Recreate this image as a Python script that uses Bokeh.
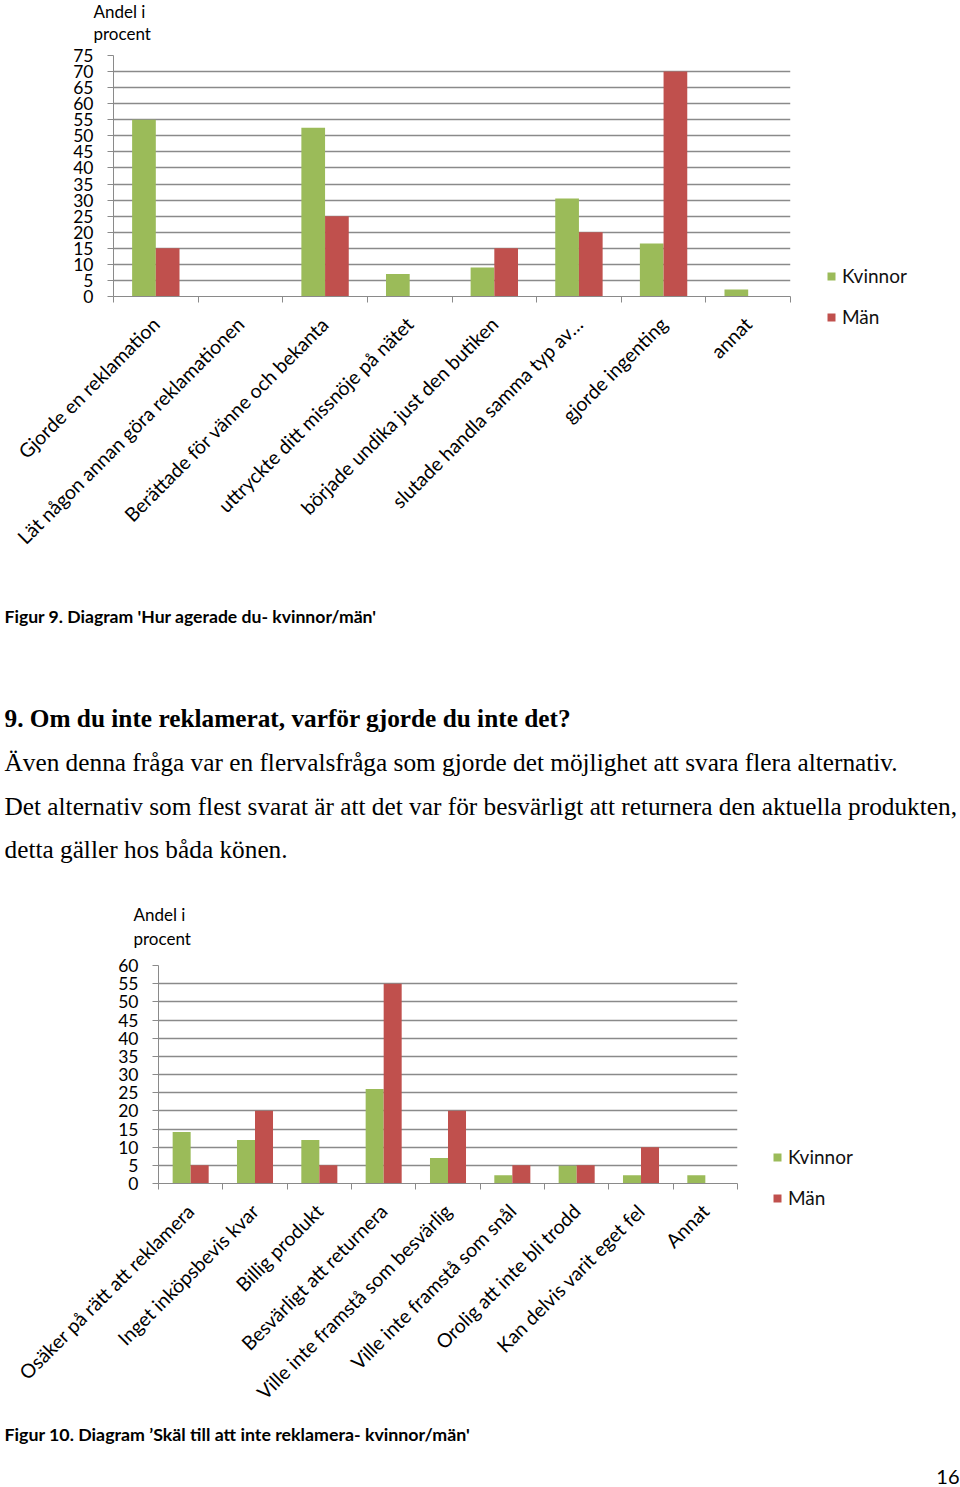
import numpy as np
from bokeh.plotting import figure
from bokeh.models import Range1d, FixedTicker, Legend, LegendItem
from bokeh.layouts import column
from bokeh.embed import file_html
from bokeh.resources import INLINE
from bokeh.core.properties import value

# ---------------- data ----------------
cats1 = ["Gjorde en reklamation", "Lät någon annan göra reklamationen",
         "Berättade för vänne och bekanta", "uttryckte ditt missnöje på nätet",
         "började undika just den butiken", "slutade handla samma typ av…",
         "gjorde ingenting", "annat"]
kvinnor1 = [55, 0, 52.5, 7, 9, 30.5, 16.5, 2.2]
man1 = [15, 0, 25, 0, 15, 20, 70, 0]
yticks1 = [0, 5, 10, 15, 20, 25, 30, 35, 40, 45, 50, 55, 60, 65, 70, 75]

cats2 = ["Osäker på rätt att reklamera", "Inget inköpsbevis kvar", "Billig produkt",
         "Besvärligt att returnera", "Ville inte framstå som besvärlig",
         "Ville inte framstå som snål", "Orolig att inte bli trodd",
         "Kan delvis varit eget fel", "Annat"]
kvinnor2 = [14.2, 12, 12, 26, 7, 2.3, 4.9, 2.3, 2.3]
man2 = [5, 20, 5, 55, 20, 5, 5, 10, 0]
yticks2 = [0, 5, 10, 15, 20, 25, 30, 35, 40, 45, 50, 55, 60]

series_names = ["Kvinnor", "Män"]
y_title = ["Andel i", "procent"]

caption1 = "Figur 9. Diagram 'Hur agerade du- kvinnor/män'"
heading = "9. Om du inte reklamerat, varför gjorde du inte det?"
para = ["Även denna fråga var en flervalsfråga som gjorde det möjlighet att svara flera alternativ.",
        "Det alternativ som flest svarat är att det var för besvärligt att returnera den aktuella produkten,",
        "detta gäller hos båda könen."]
caption2 = "Figur 10. Diagram \u2019Skäl till att inte reklamera- kvinnor/män'"
page_no = "16"

GREEN = "#9BBB59"
RED = "#C0504D"
GRID = "#8a8a8a"
FONT = "Lato"


def bar_chart(cats, kv, mn, yticks, ymax, fw, fh, left, top, right, bottom,
              label_size, legend_loc):
    n = len(cats)
    p = figure(frame_width=fw, frame_height=fh, x_range=Range1d(-0.5, n - 0.5),
               y_range=Range1d(0, ymax), output_backend="svg",
               toolbar_location=None, min_border_left=left,
               min_border_right=right, min_border_top=top,
               min_border_bottom=bottom)
    p.frame_align = False
    p.outline_line_color = None
    idx = np.arange(n)
    w = 0.28
    r1 = p.vbar(x=idx - w / 2, top=kv, width=w, fill_color=GREEN, line_color=None)
    r2 = p.vbar(x=idx + w / 2, top=mn, width=w, fill_color=RED, line_color=None)

    xa = p.xaxis[0]
    xa.ticker = FixedTicker(ticks=list(range(n)),
                            minor_ticks=[i - 0.5 for i in range(n + 1)])
    xa.major_label_overrides = {i: c for i, c in enumerate(cats)}
    xa.major_label_orientation = np.pi / 4
    xa.major_tick_out = 0
    xa.major_tick_in = 0
    xa.minor_tick_out = 6
    xa.minor_tick_in = 0
    xa.minor_tick_line_color = GRID
    xa.axis_line_color = GRID
    xa.major_label_text_font = FONT
    xa.major_label_text_font_size = label_size
    xa.major_label_text_color = "#000000"
    xa.major_label_standoff = 18

    ya = p.yaxis[0]
    ya.ticker = FixedTicker(ticks=yticks)
    ya.major_tick_out = 6
    ya.major_tick_in = 0
    ya.minor_tick_out = 0
    ya.minor_tick_in = 0
    ya.major_tick_line_color = GRID
    ya.axis_line_color = GRID
    ya.major_label_text_font = FONT
    ya.major_label_text_font_size = "17.5px"
    ya.major_label_text_color = "#000000"
    ya.major_label_standoff = 14

    p.xgrid.visible = False
    p.ygrid.ticker = FixedTicker(ticks=yticks)
    p.ygrid.grid_line_color = GRID
    p.ygrid.grid_line_width = 1.3

    legend = Legend(items=[LegendItem(label=series_names[0], renderers=[r1]),
                           LegendItem(label=series_names[1], renderers=[r2])],
                    location=legend_loc, glyph_width=10, glyph_height=10,
                    label_height=20, spacing=18, padding=0, margin=0,
                    label_standoff=6, border_line_color=None,
                    background_fill_alpha=0, label_text_font=FONT,
                    label_text_font_size="19px", label_text_color="#111111")
    p.add_layout(legend, "right")
    return p


def text_fig(y0, y1):
    t = figure(width=960, height=y1 - y0, x_range=Range1d(0, 960),
               y_range=Range1d(y1, y0), output_backend="svg",
               toolbar_location=None, x_axis_type=None, y_axis_type=None,
               min_border=0)
    t.frame_align = False
    t.outline_line_color = None
    t.xgrid.visible = False
    t.ygrid.visible = False
    return t


def add_title(t, x, ys):
    t.text(x=[x, x], y=ys, text=y_title, text_font=value(FONT),
           text_font_size="17px", text_baseline="middle", text_color="#000000")


# page band 0..45 : title of chart 1
t0 = text_fig(0, 45)
add_title(t0, 93, [11, 33])

# page band 45..575 : chart 1
p1 = bar_chart(cats1, kvinnor1, man1, yticks1, 75, 677, 241, 113, 10, 170, 279,
               "19.5px", (36, -32))

# page band 575..950 : caption, text, title of chart 2
t1 = text_fig(575, 950)
t1.text(x=[4], y=[616], text=[caption1], text_font=value(FONT),
        text_font_style="bold", text_font_size="17.6px", text_baseline="middle",
        text_color="#000000")
t1.text(x=[4], y=[717], text=[heading], text_font=value("Liberation Serif"),
        text_font_style="bold", text_font_size="25.3px", text_baseline="middle",
        text_color="#000000")
t1.text(x=[4, 4, 4], y=[761, 805, 848], text=para,
        text_font=value("Liberation Serif"), text_font_size="25.3px",
        text_baseline="middle", text_color="#000000")
add_title(t1, 133, [914, 938])

# page band 950..1417 : chart 2
p2 = bar_chart(cats2, kvinnor2, man2, yticks2, 60, 579, 218, 158, 15, 223, 234,
               "19.5px", (35, -26))

# page band 1417..1487 : caption and page number
t2 = text_fig(1417, 1487)
t2.text(x=[4], y=[1433], text=[caption2], text_font=value(FONT),
        text_font_style="bold", text_font_size="17.8px", text_baseline="middle",
        text_color="#000000")
t2.text(x=[959], y=[1476], text=[page_no], text_font=value(FONT),
        text_font_size="20px", text_baseline="middle", text_align="right",
        text_color="#000000")

layout = column(t0, p1, t1, p2, t2, spacing=0)

open("out.html", "w").write(file_html(layout, INLINE))
